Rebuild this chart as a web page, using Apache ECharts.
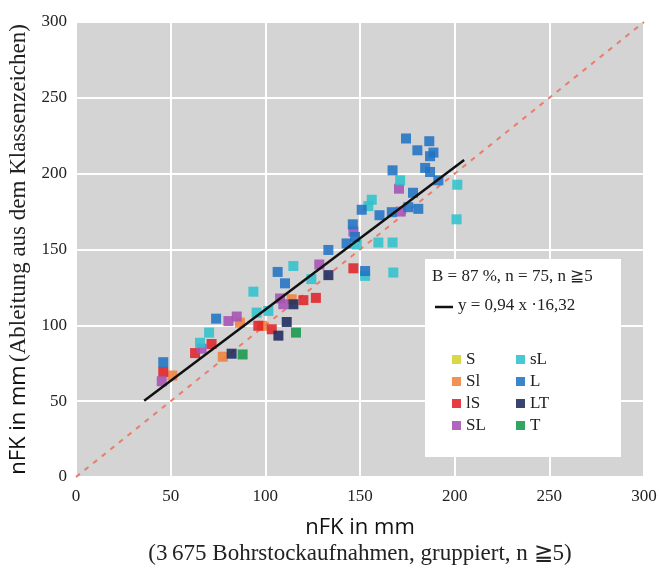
<!DOCTYPE html>
<html>
<head>
<meta charset="utf-8">
<script src="https://cdn.jsdelivr.net/npm/echarts@6/dist/echarts.min.js"></script>
<style>html,body{margin:0;padding:0;background:#fff}#c{width:659px;height:568px}</style>
</head>
<body>
<div id="c"></div>
<script>
// ---- data ----
const xTicks = [0, 50, 100, 150, 200, 250, 300];
const soilClasses = ['S', 'Sl', 'lS', 'SL', 'sL', 'L', 'LT', 'T'];
const classColors = ['#d2d42e', '#f0823c', '#e02228', '#a652b4', '#30c2cc', '#2173c4', '#1f2a5e', '#16994c'];

const ptsS = [];
const ptsSl = [[50.9,66.9],[77.5,79.3],[86.6,101.8],[98.3,99.7],[113.9,117.2]];
const ptslS = [[46.1,69.3],[62.9,81.7],[71.6,87.7],[96.3,99.7],[103.4,97.4],[120.1,116.6],[126.7,118.1],[146.5,137.6]];
const ptsSL = [[45.3,63.1],[66.4,84.6],[80.5,102.8],[84.9,105.8],[107.8,117.7],[109.5,113.9],[128.5,140.1],[146.5,161.8],[170.6,190.1],[171.5,175.0]];
const ptssL = [[65.5,88.5],[70.3,95.2],[93.7,122.2],[95.4,108.4],[101.6,109.5],[114.8,139.1],[124.3,130.5],[148.3,153.3],[152.7,132.6],[154.4,178.6],[156.2,182.8],[159.7,154.6],[167.2,154.6],[167.6,134.8],[171.2,195.6],[201.4,192.7],[201.0,169.9]];
const ptsL = [[46.1,75.7],[74.0,104.4],[106.5,135.2],[110.4,127.7],[133.3,149.7],[142.9,154.0],[146.2,166.6],[147.4,158.3],[150.9,176.2],[160.3,172.6],[166.8,174.6],[167.2,202.2],[174.3,223.2],[175.5,177.9],[178.0,187.4],[180.3,215.4],[180.8,176.8],[184.4,203.8],[186.6,221.4],[187.0,201.1],[187.0,211.5],[188.8,213.9],[191.4,195.6],[152.7,135.8]];
const ptsLT = [[82.2,81.3],[106.9,93.2],[111.3,102.2],[114.8,113.9],[133.3,133.1]];
const ptsT = [[88.0,80.8],[116.2,95.2]];
const classPoints = [ptsS, ptsSl, ptslS, ptsSL, ptssL, ptsL, ptsLT, ptsT];

const fitLine = [[36, 50.2], [205, 209.0]];
const identityLine = [[0, 0], [300, 300]];
const statText = 'B = 87 %, n = 75, n \u22675';
const fitText = 'y = 0,94 x \u00b716,32';

// ---- chart ----
const serif = '"Liberation Serif", "DejaVu Serif", serif';
const sans = '"Open Sans", "Noto Sans", sans-serif';
const chart = echarts.init(document.getElementById('c'), null, {renderer: 'canvas'});

const scatterSeries = soilClasses.map((name, i) => ({
  name: name,
  type: 'scatter',
  data: classPoints[i],
  symbol: 'rect',
  symbolSize: 10,
  itemStyle: {color: classColors[i], opacity: 0.88},
  z: 3
}));

const axisCommon = {
  type: 'value', min: 0, max: 300, interval: 50,
  axisLine: {show: false}, axisTick: {show: false},
  splitLine: {show: true, lineStyle: {color: '#ffffff', width: 2}},
  axisLabel: {fontFamily: serif, fontSize: 17, color: '#222'}
};

chart.setOption({
  animation: false,
  grid: {left: 76, top: 22, width: 568, height: 455, show: true, backgroundColor: '#d4d4d4', borderWidth: 0,
         containLabel: false, outerBoundsMode: 'none'},
  xAxis: Object.assign({}, axisCommon, {
    axisLabel: Object.assign({}, axisCommon.axisLabel, {margin: 11}),
    name: '{a|nFK in mm}\n{b|(3\u202f675 Bohrstockaufnahmen, gruppiert, n \u22675)}',
    nameLocation: 'middle', nameGap: 37,
    nameTextStyle: {
      verticalAlign: 'top',
      rich: {
        a: {fontFamily: sans, fontSize: 22, color: '#111', lineHeight: 27},
        b: {fontFamily: serif, fontSize: 23, color: '#222', lineHeight: 25}
      }
    }
  }),
  yAxis: Object.assign({}, axisCommon, {
    axisLabel: Object.assign({}, axisCommon.axisLabel, {margin: 9}),
    name: '{a|nFK in mm} {b|(Ableitung aus dem Klassenzeichen)}',
    nameLocation: 'middle', nameGap: 44, nameRotate: 90,
    nameTextStyle: {
      rich: {
        a: {fontFamily: sans, fontSize: 22, color: '#111'},
        b: {fontFamily: serif, fontSize: 23, color: '#222'}
      }
    }
  }),
  legend: [
    {data: soilClasses.slice(0, 4), orient: 'vertical', left: 447, top: 346, icon: 'rect', itemWidth: 9, itemHeight: 9, itemGap: 5,
     textStyle: {fontFamily: serif, fontSize: 17, color: '#222', lineHeight: 17}, z: 10, selectedMode: false},
    {data: soilClasses.slice(4), orient: 'vertical', left: 511, top: 346, icon: 'rect', itemWidth: 9, itemHeight: 9, itemGap: 5,
     textStyle: {fontFamily: serif, fontSize: 17, color: '#222', lineHeight: 17}, z: 10, selectedMode: false}
  ],
  graphic: [
    {type: 'rect', left: 425, top: 259, shape: {width: 196, height: 198}, style: {fill: '#ffffff'}, z: 5},
    {type: 'text', left: 432, top: 268, style: {text: statText, font: '17px ' + serif, fill: '#222'}, z: 6},
    {type: 'line', shape: {x1: 435, y1: 307, x2: 453, y2: 307}, style: {stroke: '#111', lineWidth: 2.5}, z: 6},
    {type: 'text', left: 458, top: 297, style: {text: fitText, font: '17px ' + serif, fill: '#222'}, z: 6}
  ],
  series: [
    {type: 'line', data: identityLine, symbol: 'none', silent: true,
     lineStyle: {color: '#ea7d6c', width: 2, type: [5, 6]}, z: 2},
    ...scatterSeries,
    {type: 'line', data: fitLine, symbol: 'none', silent: true,
     lineStyle: {color: '#111', width: 2.5}, z: 4}
  ]
});
</script>
</body>
</html>
